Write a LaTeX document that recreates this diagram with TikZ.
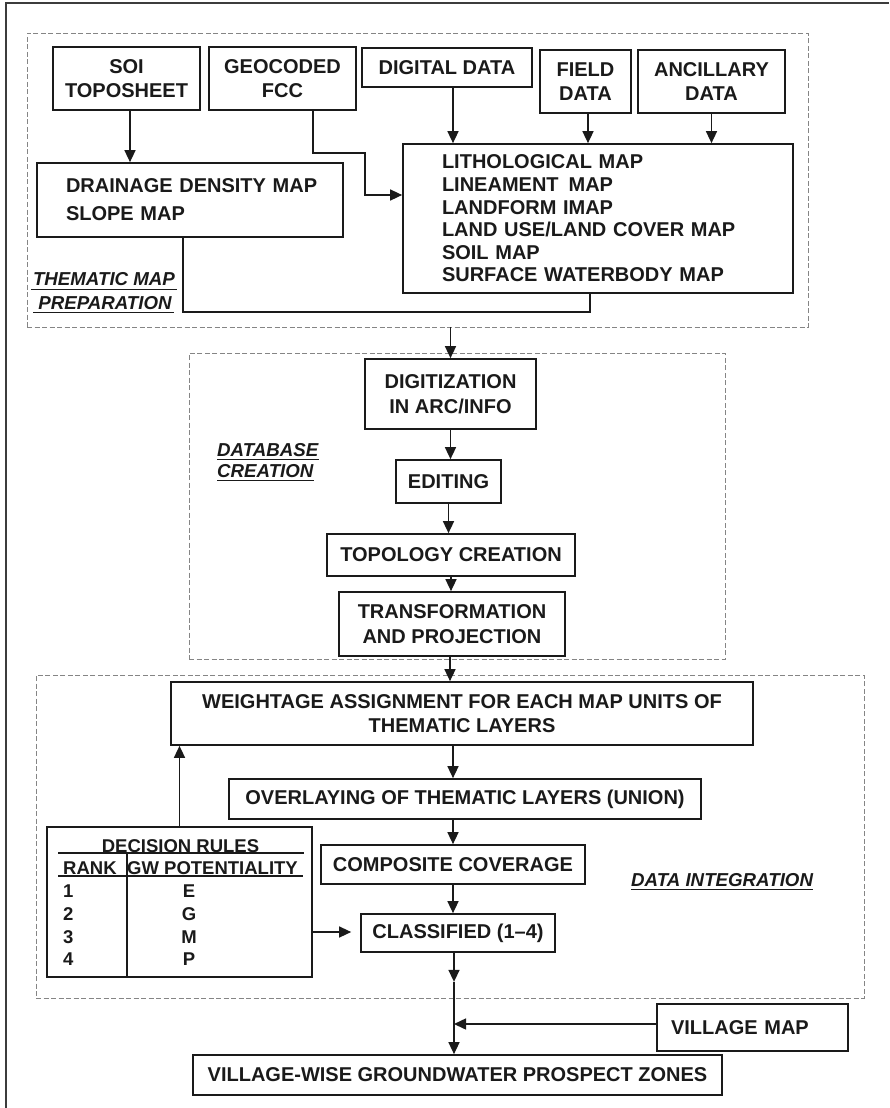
\documentclass[tikz,border=0pt]{standalone}
\usepackage{fontspec}
\setmainfont{Liberation Sans}
\usetikzlibrary{arrows.meta,calc}
\definecolor{ink}{HTML}{1A1A1A}
\definecolor{dashgray}{HTML}{858585}
\newcommand\mfnt{\bfseries\fontsize{20}{24.5}\selectfont}
\newcommand\drfnt{\bfseries\fontsize{20}{28}\selectfont}
\newcommand\lifnt{\bfseries\fontsize{20}{22.6}\selectfont}
\newcommand\tbfnt{\bfseries\fontsize{18.5}{22}\selectfont}
\newcommand\ifnt{\bfseries\itshape\fontsize{18.7}{24}\selectfont}
\begin{document}
\begin{tikzpicture}[x=1pt,y=-1pt,
  box/.style={draw=ink, line width=1.7pt, inner sep=0pt, font=\mfnt, align=center, text=ink},
  frame/.style={draw=dashgray, line width=0.9pt, dash pattern=on 5pt off 2.5pt, inner sep=0pt},
  arr/.style={draw=ink, line width=1.5pt, -{Triangle[length=12pt,width=11pt]}},
  ln/.style={draw=ink, line width=1.5pt},
  ul/.style={draw=ink, line width=1.7pt},
  lbl/.style={font=\ifnt, inner sep=0pt, text=ink},
  txt/.style={font=\tbfnt, inner sep=0pt, text=ink},
]
\useasboundingbox (0,0) rectangle (889,1108);
\fill[white] (0,0) rectangle (889,1108);
% outer frame
\draw[ink!85, line width=2pt] (6,1108) -- (6,3) -- (889,3);

% dashed frames
\node[frame, minimum width=781pt, minimum height=294pt] (fr1) at (417.5,180) {};
\node[frame, minimum width=536pt, minimum height=306pt] (fr2) at (457,506) {};
\node[frame, minimum width=828pt, minimum height=323pt] (fr3) at (450,836.5) {};

% thematic map preparation
\node[box, minimum width=147pt, minimum height=63pt] (soi) at (126.5,78.5) {SOI\\TOPOSHEET};
\node[box, minimum width=147pt, minimum height=63pt] (geo) at (282.5,78.5) {GEOCODED\\FCC};
\node[box, minimum width=170pt, minimum height=39pt] (dig) at (447,67.5) {DIGITAL DATA};
\node[box, minimum width=91pt, minimum height=63pt] (field) at (585.5,81.5) {FIELD\\DATA};
\node[box, minimum width=147pt, minimum height=63pt] (anc) at (711.5,81.5) {ANCILLARY\\DATA};
\node[box, minimum width=306pt, minimum height=74pt, text width=248pt, inner xsep=29pt, align=left, font=\drfnt] (drain) at (190,200)
  {\mbox{DRAINAGE DENSITY MAP}\\\mbox{SLOPE MAP}};
\node[box, minimum width=390pt, minimum height=149pt, text width=312pt, inner xsep=39pt, align=left, font=\lifnt] (litho) at (598,218.5)
  {\mbox{LITHOLOGICAL MAP}\\\mbox{LINEAMENT\, MAP}\\\mbox{LANDFORM IMAP}\\\mbox{LAND USE/LAND COVER MAP}\\\mbox{SOIL MAP}\\\mbox{SURFACE WATERBODY MAP}};

\node[lbl] (tm1) at (104,279) {THEMATIC MAP};
\node[lbl] (tm2) at (105,303) {PREPARATION};
\draw[ul] ([xshift=-2pt,yshift=-4pt]tm1.base west) -- ([xshift=2pt,yshift=-4pt]tm1.base east);
\draw[ul] ([xshift=-5pt,yshift=-3pt]tm2.base west) -- ([xshift=2pt,yshift=-3pt]tm2.base east);

\draw[arr] ([xshift=3.5pt]soi.south) -- ([xshift=3.5pt]soi.south |- drain.north);
\draw[arr] ([xshift=30.5pt]geo.south) -- ++(0,42) -- ++(52,0) |- ([yshift=23.5pt]litho.west);
\draw[arr] ([xshift=6pt]dig.south) -- ([xshift=6pt]dig.south |- litho.north);
\draw[arr] ([xshift=2.5pt]field.south) -- ([xshift=2.5pt]field.south |- litho.north);
\draw[arr] (anc.south) -- (anc.south |- litho.north);
\draw[ln] ([xshift=-7pt]drain.south) -- ++(0,74) -| ([xshift=-8pt]litho.south);

% database creation
\node[box, minimum width=171pt, minimum height=70pt] (digi) at (450.5,394) {DIGITIZATION\\IN ARC/INFO};
\node[box, minimum width=105pt, minimum height=43pt] (edit) at (448.5,481.5) {EDITING};
\node[box, minimum width=248pt, minimum height=42pt] (topo) at (451,555) {TOPOLOGY CREATION};
\node[box, minimum width=226pt, minimum height=64pt] (trans) at (452,624) {TRANSFORMATION\\AND PROJECTION};
\node[lbl, anchor=west] (db1) at (217,450) {DATABASE};
\node[lbl, anchor=west] (db2) at (217,471) {CREATION};
\draw[ul] ([yshift=-3pt]db1.base west) -- ([yshift=-3pt]db1.base east);
\draw[ul] ([yshift=-3pt]db2.base west) -- ([yshift=-3pt]db2.base east);

\draw[arr] (fr1.south -| digi.north) -- (digi.north);
\draw[arr] (digi.south) -- (digi.south |- edit.north);
\draw[arr] (edit.south) -- (edit.south |- topo.north);
\draw[arr] (topo.south) -- (topo.south |- trans.north);

% data integration
\node[box, minimum width=582pt, minimum height=63pt] (weight) at (462,713.5) {WEIGHTAGE ASSIGNMENT FOR EACH MAP UNITS OF\\THEMATIC LAYERS};
\node[box, minimum width=472pt, minimum height=40pt] (over) at (465,799) {OVERLAYING OF THEMATIC LAYERS (UNION)};
\node[box, minimum width=264pt, minimum height=39pt] (comp) at (453,864.5) {COMPOSITE COVERAGE};
\node[box, minimum width=194pt, minimum height=38pt] (class) at (458,933) {CLASSIFIED (1--4)};
\node[lbl, anchor=west] (di) at (631,880) {DATA INTEGRATION};
\draw[ul] ([yshift=-3pt]di.base west) -- ([yshift=-3pt]di.base east);

\node[box, minimum width=265pt, minimum height=150pt] (dec) at (179.5,902) {};
\node[txt] (dech) at (180.5,846) {DECISION RULES};
\node[txt, anchor=west] (rank) at (63,868) {RANK};
\node[txt] (gw) at (212.5,868) {GW POTENTIALITY};
\node[txt, anchor=west] (r1) at (63,891) {1};
\node[txt, anchor=west] (r2) at (63,914) {2};
\node[txt, anchor=west] (r3) at (63,937) {3};
\node[txt, anchor=west] (r4) at (63,959) {4};
\node[txt] (e1) at (189,891) {E};
\node[txt] (e2) at (189,914) {G};
\node[txt] (e3) at (189,937) {M};
\node[txt] (e4) at (189,959) {P};
\draw[ln] ($(dec.north west)+(12,27)$) -- ($(dec.north east)+(-9,27)$);
\draw[ln] ($(dec.north west)+(12,50)$) -- ($(dec.north east)+(-10,50)$);
\draw[ln] ($(dec.north west)+(81,26)$) -- ($(dec.south west)+(81,0)$);

\draw[arr] ([xshift=-2pt]trans.south) -- ([xshift=-2pt]trans.south |- weight.north);
\draw[arr] ([xshift=-9pt]weight.south) -- ([xshift=-9pt]weight.south |- over.north);
\draw[arr] ([xshift=-12pt]over.south) -- ([xshift=-12pt]over.south |- comp.north);
\draw[arr] (comp.south) -- (comp.south |- class.north);
\draw[arr] (dec.north) -- (dec.north |- weight.south);
\coordinate (cw) at ([xshift=-9pt]class.west);
\draw[arr] ([yshift=-30pt]dec.east) -- ([yshift=-30pt]dec.east -| cw);

% output
\node[box, minimum width=191pt, minimum height=47pt, text width=163pt, inner xsep=14pt, align=left] (vmap) at (752.5,1027.5) {VILLAGE MAP};
\node[box, minimum width=529pt, minimum height=40pt] (vw) at (457.5,1075) {VILLAGE-WISE GROUNDWATER PROSPECT ZONES};
\coordinate (mid) at ([xshift=-4pt,yshift=-29pt]class.south);
\draw[arr] ([xshift=-4pt]class.south) -- (mid);
\draw[arr] (mid) -- (mid |- vw.north);
\draw[arr] ([yshift=3.5pt]vmap.west) -- ([yshift=3.5pt]vmap.west -| mid);
\end{tikzpicture}
\end{document}
